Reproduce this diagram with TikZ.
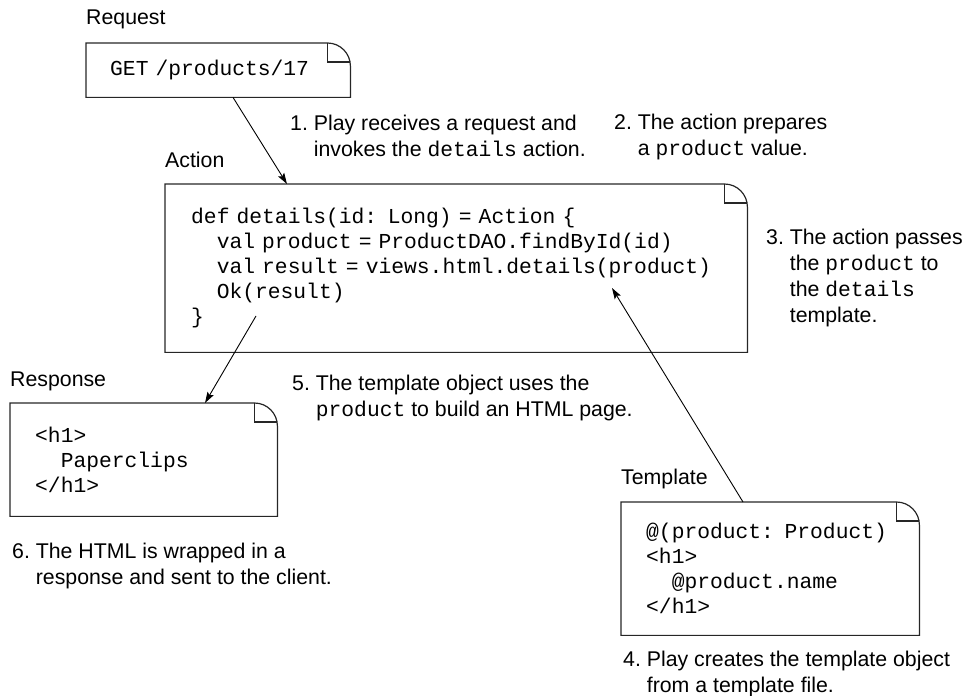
\documentclass[tikz,border=0pt]{standalone}
\usepackage{fontspec}
\setmainfont{Liberation Sans}
\setmonofont{Liberation Mono}[WordSpace={1,0,0}]
\usetikzlibrary{arrows.meta}

\newcommand{\foldr}{23pt}
\newcommand{\ind}{\phantom{xx}}
% page outline with a turned corner round node #1
\newcommand{\pageoutline}[1]{%
  \draw[pageline] (#1.south west) -- (#1.north west)
    -- ([xshift=-\foldr]#1.north east)
    arc[start angle=90, end angle=0, radius=\foldr]
    -- (#1.south east) -- cycle;
  \draw[pageline] ([xshift=-\foldr]#1.north east) -- ++(0,-19pt) -- ++(22.6pt,0);
}
% numbered remark with hanging indent
\newcommand{\remark}[2]{%
  \begin{tabular}[t]{@{}l@{\ }l@{}}#1 & \begin{tabular}[t]{@{}l@{}}#2\end{tabular}\end{tabular}}

\tikzset{
  pageline/.style={line width=1.2pt, draw=black!85},
  page/.style={anchor=north west, inner ysep=0pt, align=left,
    font=\fontsize{21.3}{25}\ttfamily},
  title/.style={anchor=base west, inner sep=0pt, font=\fontsize{21.3}{26}\selectfont},
  note/.style={anchor=base west, inner sep=0pt, font=\fontsize{21.3}{26}\selectfont},
  flow/.style={-{Stealth[length=11pt, width=7pt, inset=2pt]}, line width=0.9pt}
}

\begin{document}
\begin{tikzpicture}[x=1pt, y=1pt]
  \useasboundingbox (0,0) rectangle (964,696);

  % the four pages
  \node[page, text width=216pt, inner xsep=24pt, minimum height=54pt] (req) at (86,653)
    {GET /products/17};
  \node[page, text width=530pt, inner xsep=26pt, minimum height=168pt] (act) at (165,512)
    {def details(id: Long) = Action \{\\
     \ind val product = ProductDAO.findById(id)\\
     \ind val result = views.html.details(product)\\
     \ind Ok(result)\\
     \}};
  \node[page, text width=217pt, inner xsep=25pt, minimum height=113pt] (resp) at (10,293)
    {<h1>\\ \ind Paperclips\\ </h1>};
  \node[page, text width=248pt, inner xsep=25pt, minimum height=133pt] (tmpl) at (621,194)
    {@(product: Product)\\ <h1>\\ \ind @product.name\\ </h1>};
  \foreach \p in {req,act,resp,tmpl} \pageoutline{\p};

  \node[title] (reqtitle) at ([yshift=18pt]req.north west) {Request};
  \node[title] (acttitle) at ([yshift=16pt]act.north west) {Action};
  \node[title] (resptitle) at ([yshift=16pt]resp.north west) {Response};
  \node[title] (tmpltitle) at ([yshift=17pt]tmpl.north west) {Template};

  % remarks
  \node[note] (one) at (290,565)
    {\remark{1.}{Play receives a request and\\invokes the \texttt{details} action.}};
  \node[note] (two) at (614,566)
    {\remark{2.}{The action prepares\\a \texttt{product} value.}};
  \node[note] (three) at (766,451)
    {\remark{3.}{The action passes\\the \texttt{product} to\\the \texttt{details}\\template.}};
  \node[note] (five) at (292,305)
    {\remark{5.}{The template object uses the\\\texttt{product} to build an HTML page.}};
  \node[note] (six) at (12,137)
    {\remark{6.}{The HTML is wrapped in a\\response and sent to the client.}};
  \node[note] (four) at (623,29)
    {\remark{4.}{Play creates the template object\\from a template file.}};

  % flow between the pages
  \coordinate (okline) at ([xshift=91pt, yshift=-132pt]act.north west);
  \coordinate (viewcall) at ([xshift=447pt, yshift=-104pt]act.north west);
  \draw[flow] ([xshift=147pt]req.south west) -- ([xshift=122pt]act.north west);
  \draw[flow] (okline) -- ([xshift=195pt]resp.north west);
  \draw[flow] ([xshift=122pt]tmpl.north west) -- (viewcall);
\end{tikzpicture}
\end{document}
